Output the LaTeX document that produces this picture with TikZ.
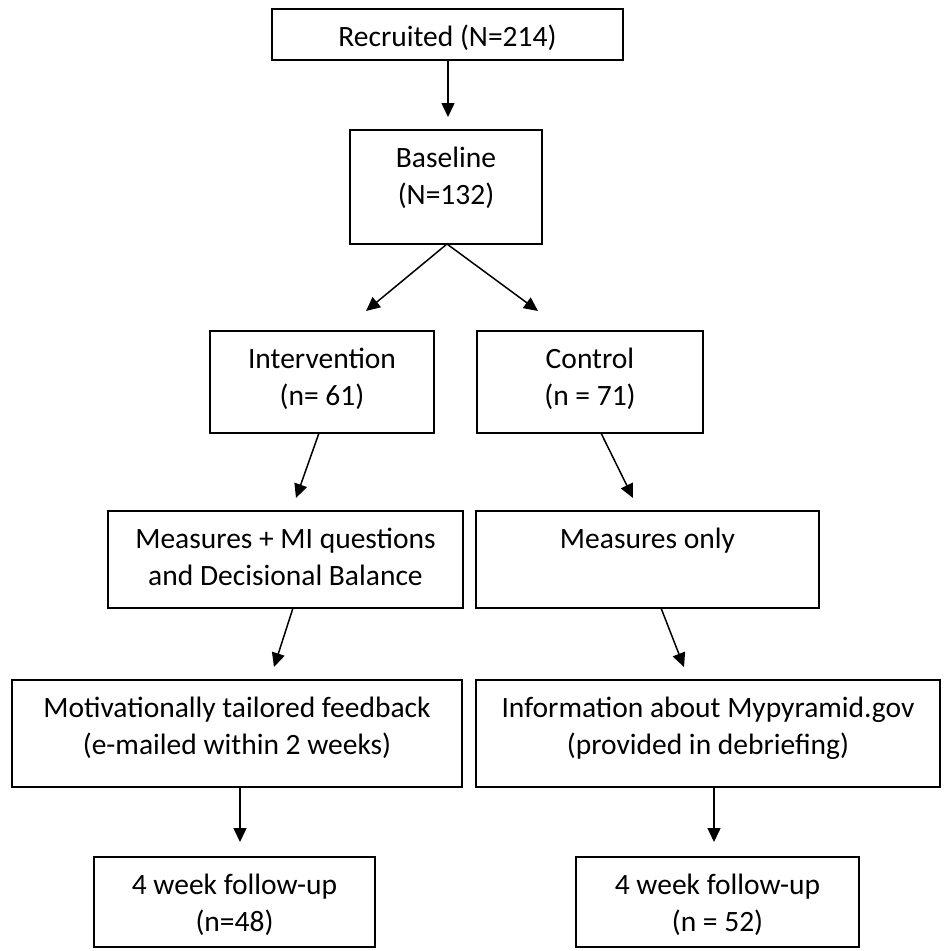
\documentclass[tikz,border=0pt]{standalone}
\usepackage{fontspec}
\setmainfont{Carlito}
\usetikzlibrary{arrows.meta}
\newcommand{\bxt}[3]{\parbox[c][#2][t]{#1}{\centering\rule{0pt}{37pt}#3}}
\tikzset{
  flowbox/.style={draw, line width=1.5pt, inner sep=0pt, outer sep=0pt, anchor=north west,
    font=\fontsize{29.5}{37}\selectfont},
  flowarr/.style={line width=1.5pt, -{Triangle[length=14pt, width=13pt]}}
}
\begin{document}
\begin{tikzpicture}[x=1pt, y=-1pt]
\useasboundingbox (0,0) rectangle (943,951);
\node[flowbox] (rec) at (272,9)   {\bxt{351pt}{51pt}{Recruited (N=214)}};
\node[flowbox] (base) at (350,130) {\bxt{192pt}{114pt}{Baseline\\(N=132)}};
\node[flowbox] (int) at (210,331)  {\bxt{224pt}{102pt}{Intervention\\(n= 61)}};
\node[flowbox] (ctl) at (477,331)  {\bxt{226pt}{102pt}{Control\\(n = 71)}};
\node[flowbox] (mmi) at (108,511)  {\bxt{355pt}{97pt}{Measures + MI questions\\and Decisional Balance}};
\node[flowbox] (mon) at (476,511)  {\bxt{343pt}{97pt}{Measures only}};
\node[flowbox] (mot) at (12,680)   {\bxt{450pt}{107pt}{Motivationally tailored feedback\\(e-mailed within 2 weeks)}};
\node[flowbox] (inf) at (476,680)  {\bxt{464pt}{107pt}{Information about Mypyramid.gov\\(provided in debriefing)}};
\node[flowbox] (fu1) at (94,857)   {\bxt{281pt}{90pt}{4 week follow-up\\(n=48)}};
\node[flowbox] (fu2) at (576,857)  {\bxt{283pt}{90pt}{4 week follow-up\\(n = 52)}};

\draw[flowarr] ([xshift=176pt]rec.south west) -- ([xshift=98pt,yshift=13pt]base.north west);
\draw[flowarr] ([xshift=97pt]base.south west) -- ([xshift=156pt,yshift=20pt]int.north west);
\draw[flowarr] ([xshift=97pt]base.south west) -- ([xshift=61pt,yshift=20pt]ctl.north west);
\draw[flowarr] ([xshift=109pt]int.south west) -- ([xshift=188pt,yshift=13pt]mmi.north west);
\draw[flowarr] ([xshift=124pt]ctl.south west) -- ([xshift=157pt,yshift=13pt]mon.north west);
\draw[flowarr] ([xshift=185pt]mmi.south west) -- ([xshift=262pt,yshift=13pt]mot.north west);
\draw[flowarr] ([xshift=185pt]mon.south west) -- ([xshift=208pt,yshift=13pt]inf.north west);
\draw[flowarr] ([xshift=228pt]mot.south west) -- ([xshift=146pt,yshift=15pt]fu1.north west);
\draw[flowarr] ([xshift=238pt]inf.south west) -- ([xshift=138pt,yshift=15pt]fu2.north west);
\end{tikzpicture}
\end{document}
